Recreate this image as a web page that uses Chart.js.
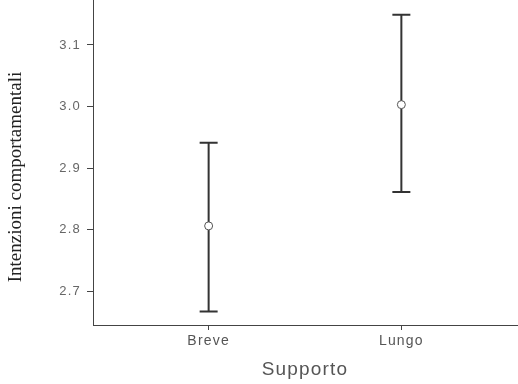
<!DOCTYPE html>
<html>
<head>
<meta charset="utf-8">
<script src="https://cdn.jsdelivr.net/npm/chart.js@4/dist/chart.umd.min.js"></script>
<style>
html,body{margin:0;padding:0;background:#fff;}
#wrap{width:518px;height:384px;}
</style>
</head>
<body>
<div id="wrap"><canvas id="c" width="518" height="384"></canvas></div>
<script>
const categories = ['Breve', 'Lungo'];
const means = [2.806, 3.003];
const lower = [2.667, 2.861];
const upper = [2.941, 3.149];
const yTicks = [2.7, 2.8, 2.9, 3.0, 3.1];
const yTitle = 'Intenzioni comportamentali';
const xTitle = 'Supporto';

const errorBars = {
  id: 'errorBars',
  beforeDraw(chart) {
    chart.ctx.letterSpacing = '1.2px';
  },
  beforeDatasetsDraw(chart) {
    const ctx = chart.ctx, xs = chart.scales.x, ys = chart.scales.y;
    ctx.save();
    ctx.strokeStyle = '#333';
    ctx.lineWidth = 2;
    categories.forEach((c, i) => {
      const x = xs.getPixelForValue(i);
      const yl = ys.getPixelForValue(lower[i]);
      const yu = ys.getPixelForValue(upper[i]);
      ctx.beginPath();
      ctx.moveTo(x, yl); ctx.lineTo(x, yu);
      ctx.moveTo(x - 9, yl); ctx.lineTo(x + 9, yl);
      ctx.moveTo(x - 9, yu); ctx.lineTo(x + 9, yu);
      ctx.stroke();
    });
    ctx.restore();
  },
  afterDraw(chart) {
    const ctx = chart.ctx;
    ctx.save();
    ctx.letterSpacing = '0px';
    ctx.translate(16, 177);
    ctx.rotate(-Math.PI / 2);
    ctx.font = '19px "Liberation Serif", "DejaVu Serif", serif';
    ctx.fillStyle = '#222';
    ctx.textAlign = 'center';
    ctx.textBaseline = 'middle';
    ctx.fillText(yTitle, 0, 0);
    ctx.restore();
  }
};

new Chart(document.getElementById('c'), {
  type: 'scatter',
  data: {
    datasets: [{
      data: categories.map((c, i) => ({x: i, y: means[i]})),
      pointRadius: 4,
      pointBackgroundColor: '#fff',
      pointBorderColor: '#555',
      pointBorderWidth: 1,
      showLine: false
    }]
  },
  options: {
    responsive: false,
    animation: false,
    devicePixelRatio: 1,
    layout: {autoPadding: false, padding: {top: 0, right: 1, left: 0, bottom: 0}},
    plugins: {legend: {display: false}, tooltip: {enabled: false}},
    scales: {
      x: {
        type: 'linear',
        min: -0.6, max: 1.6,
        afterBuildTicks(s) { s.ticks = categories.map((c, i) => ({value: i})); },
        afterFit(s) { s.height = 59; s.paddingLeft = 0; s.paddingRight = 0; },
        ticks: {
          callback: (v) => categories[v] !== undefined ? categories[v] : '',
          color: '#555',
          font: {family: '"Liberation Sans", Arial, sans-serif', size: 14},
          padding: 3,
          maxRotation: 0,
          autoSkip: false
        },
        grid: {display: true, drawOnChartArea: false, drawTicks: true, tickLength: 5, color: '#444', lineWidth: 1},
        border: {display: true, color: '#444', width: 1},
        title: {display: true, text: xTitle, color: '#555', font: {family: '"Liberation Sans", Arial, sans-serif', size: 19}, padding: {top: 0, bottom: 3}}
      },
      y: {
        type: 'linear',
        min: 2.645, max: 3.173,
        afterBuildTicks(s) { s.ticks = yTicks.map(v => ({value: v})); },
        afterFit(s) { s.width = 93; s.paddingTop = 0; s.paddingBottom = 0; },
        ticks: {
          callback: (v) => v.toFixed(1),
          color: '#666',
          font: {family: '"Liberation Sans", Arial, sans-serif', size: 13},
          padding: 6
        },
        grid: {display: true, drawOnChartArea: false, drawTicks: true, tickLength: 6, color: '#444', lineWidth: 1},
        border: {display: true, color: '#444', width: 1}
      }
    }
  },
  plugins: [errorBars]
});
</script>
</body>
</html>
